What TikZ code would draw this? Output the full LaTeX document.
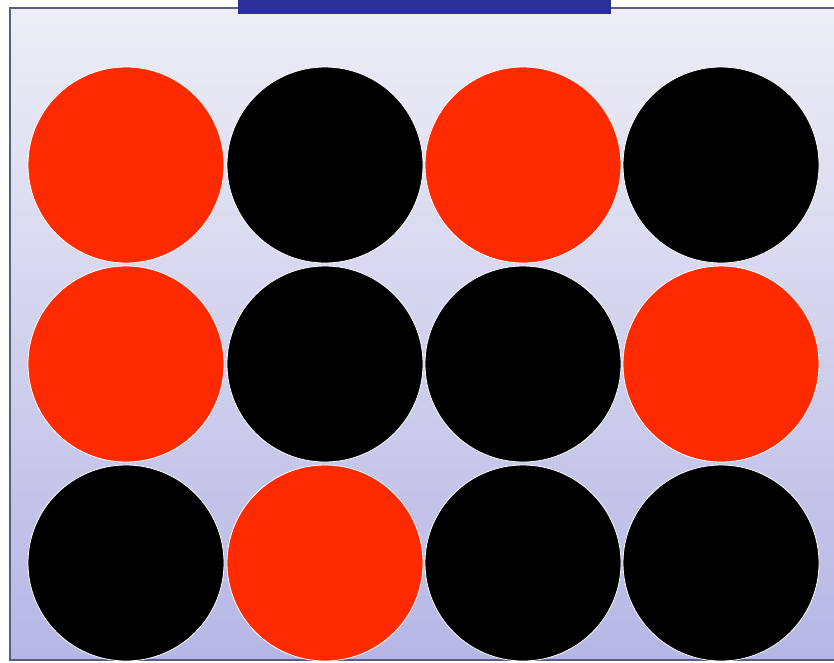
\documentclass[tikz,border=0pt]{standalone}
\usetikzlibrary{calc}
\definecolor{dotred}{HTML}{FF2A00}
\definecolor{bartop}{HTML}{2B2F9A}
\definecolor{frameline}{HTML}{5C5C82}
\definecolor{bgtop}{HTML}{EEEEF6}
\definecolor{bgbot}{HTML}{B6B6E6}
\tikzset{
  dot/.style={circle, minimum size=196pt, inner sep=0pt, draw=white, line width=0.8pt},
  reddot/.style={dot, fill=dotred},
  blackdot/.style={dot, fill=black},
}
\begin{document}
\begin{tikzpicture}[x=1pt,y=-1pt]
\useasboundingbox (0,0) rectangle (834,662);
\clip (0,0) rectangle (834,662);
\fill[white] (0,0) rectangle (834,662);
\shade[top color=bgtop, bottom color=bgbot] (10,8) rectangle (840,660);
\draw[frameline, line width=1.6pt] (10,8) rectangle (840,660);
\fill[bartop] (238,-2) rectangle (611,14);
% row 1
\node[reddot]   (r1c1) at (126,165) {};
\node[blackdot] (r1c2) at (325,165) {};
\node[reddot]   (r1c3) at (523,165) {};
\node[blackdot] (r1c4) at (721,165) {};
% row 2
\node[reddot]   (r2c1) at (126,364) {};
\node[blackdot] (r2c2) at (325,364) {};
\node[blackdot] (r2c3) at (523,364) {};
\node[reddot]   (r2c4) at (721,364) {};
% row 3
\node[blackdot] (r3c1) at (126,563) {};
\node[reddot]   (r3c2) at (325,563) {};
\node[blackdot] (r3c3) at (523,563) {};
\node[blackdot] (r3c4) at (721,563) {};
\end{tikzpicture}
\end{document}
